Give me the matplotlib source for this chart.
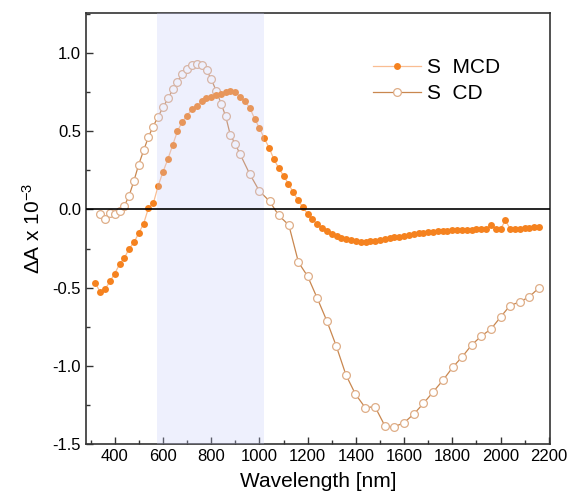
import matplotlib.pyplot as plt
from matplotlib.ticker import MultipleLocator

plt.rcParams['font.family'] = ['Liberation Sans', 'DejaVu Sans']
plt.rcParams['mathtext.fontset'] = 'custom'
plt.rcParams['mathtext.rm'] = 'Liberation Sans'
plt.rcParams['mathtext.it'] = 'Liberation Sans'

# MCD spectrum, sampled every 20 nm
mcd_nm = list(range(320, 2161, 20))
mcd_val = [
    -0.47, -0.53, -0.51, -0.46, -0.41, -0.35, -0.31, -0.25, -0.21, -0.15,
    -0.09, 0.01, 0.04, 0.15, 0.24, 0.32, 0.41, 0.50, 0.56, 0.60,
    0.64, 0.66, 0.69, 0.71, 0.72, 0.73, 0.74, 0.75, 0.76, 0.75,
    0.72, 0.69, 0.65, 0.58, 0.52, 0.455, 0.395, 0.32, 0.265, 0.215,
    0.165, 0.11, 0.06, 0.015, -0.028, -0.063, -0.095, -0.12, -0.135, -0.155,
    -0.17, -0.18, -0.19, -0.198, -0.203, -0.205, -0.205, -0.204, -0.20, -0.196,
    -0.192, -0.185, -0.178, -0.173, -0.168, -0.162, -0.157, -0.153, -0.149, -0.145,
    -0.141, -0.139, -0.137, -0.135, -0.134, -0.132, -0.131, -0.130, -0.129, -0.128,
    -0.126, -0.122, -0.100, -0.124, -0.126, -0.070, -0.124, -0.124, -0.123, -0.121,
    -0.118, -0.114, -0.110,
]

# CD spectrum
cd_nm = [338, 359, 379, 400, 421, 439, 459, 479, 499, 520, 539, 559, 579, 600,
         621, 641, 659, 680, 699, 720, 741, 761, 781, 800, 821, 842, 860, 879,
         900, 920, 959, 1000, 1042, 1080, 1122, 1162, 1200, 1240, 1279, 1318,
         1359, 1398, 1439, 1479, 1521, 1559, 1600, 1642, 1680, 1721, 1762, 1801,
         1842, 1881, 1921, 1960, 2001, 2039, 2080, 2118, 2160]
cd_val = [-0.028, -0.06, -0.02, -0.028, -0.01, 0.02, 0.085, 0.18, 0.285, 0.378,
          0.46, 0.53, 0.59, 0.652, 0.71, 0.767, 0.816, 0.865, 0.897, 0.923,
          0.93, 0.923, 0.89, 0.833, 0.758, 0.673, 0.596, 0.478, 0.417, 0.353,
          0.229, 0.117, 0.053, -0.038, -0.10, -0.338, -0.427, -0.568, -0.71, -0.87,
          -1.058, -1.18, -1.267, -1.26, -1.385, -1.389, -1.363, -1.305, -1.24, -1.165,
          -1.09, -1.01, -0.94, -0.865, -0.808, -0.765, -0.686, -0.615, -0.59, -0.56,
          -0.50]

band = (575, 1020)

fig = plt.figure(figsize=(5.72, 5.03), dpi=100)
ax = fig.add_axes([0.150, 0.117, 0.8115, 0.857])

ax.plot(mcd_nm, mcd_val, color="#f9bd92", linewidth=0.9, marker="o",
        markersize=5.0, markerfacecolor="#f5821f", markeredgecolor="#f5821f",
        markeredgewidth=0, label="S  MCD", zorder=3)
ax.plot(cd_nm, cd_val, color="#c9874f", linewidth=0.9, marker="o",
        markersize=5.6, markerfacecolor="white", markeredgecolor="#dfae88",
        markeredgewidth=0.9, label="S  CD", zorder=2)

ax.axvspan(*band, color="#c5cbfa", alpha=0.28, linewidth=0, zorder=5)
ax.axhline(0, color="black", linewidth=1.2, zorder=6)

ax.set_xlim(280, 2205)
ax.set_ylim(-1.5, 1.255)
ax.xaxis.set_major_locator(MultipleLocator(200))
ax.xaxis.set_minor_locator(MultipleLocator(100))
ax.yaxis.set_major_locator(MultipleLocator(0.5))
ax.yaxis.set_minor_locator(MultipleLocator(0.25))
ax.yaxis.set_major_formatter(plt.FormatStrFormatter("%.1f"))
ax.tick_params(which="both", direction="in", labelsize=12, width=1.0,
               color="#333333")
ax.tick_params(which="major", length=5)
ax.tick_params(which="minor", length=3)
for s in ax.spines.values():
    s.set_linewidth(1.2)
    s.set_color("#333333")

ax.set_xlabel("Wavelength [nm]", fontsize=15, labelpad=6)
ax.set_ylabel(r"ΔA x 10$^{-3}$", fontsize=15, labelpad=6)

ax.legend(loc="upper left", bbox_to_anchor=(0.60, 0.915), frameon=False,
          fontsize=15, handlelength=2.3, handletextpad=0.3, labelspacing=0.35,
          borderaxespad=0)

fig.savefig("out.png", dpi=100)
